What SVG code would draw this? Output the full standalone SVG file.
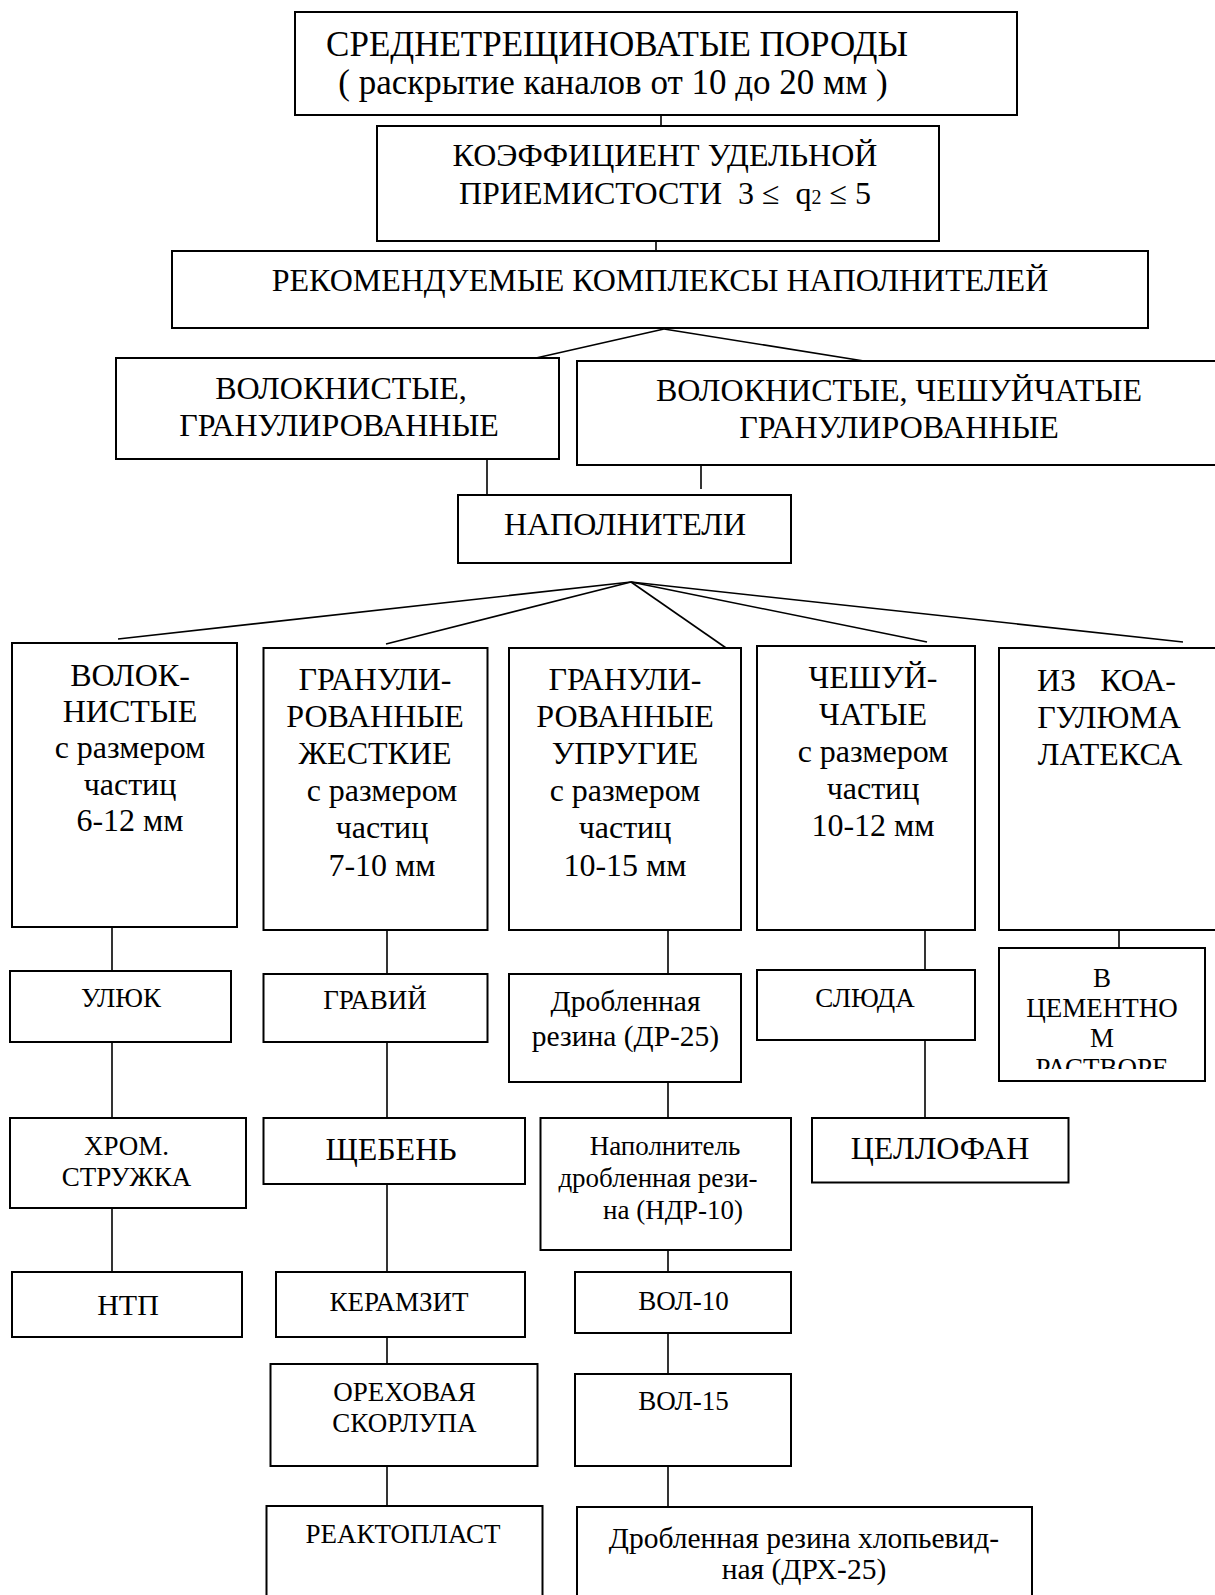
<svg xmlns="http://www.w3.org/2000/svg" width="1215" height="1595" viewBox="0 0 1215 1595">
  <style>
    .box { fill: #fff; stroke: #000; stroke-width: 2; }
    .ln { fill: none; stroke: #000; stroke-width: 1.6; }
    text { font-family: "Liberation Serif", "Times New Roman", serif; fill: #000; text-anchor: middle; }
    .f35 { font-size: 35px; }
    .f32 { font-size: 32px; }
    .f30 { font-size: 30px; }
    .f29 { font-size: 29.5px; }
    .f27 { font-size: 27px; }
    .st { text-anchor: start; }
  </style>
  <defs>
    <clipPath id="cementClip">
      <rect x="999" y="948" width="206" height="121"/>
    </clipPath>
  </defs>
  <rect width="1215" height="1595" fill="#fff"/>

  <!-- connectors -->
  <g id="connectors">
    <line class="ln" x1="661" y1="115" x2="661" y2="126"/>
    <line class="ln" x1="656" y1="241" x2="656" y2="251"/>
    <line class="ln" x1="664" y1="329" x2="536" y2="358"/>
    <line class="ln" x1="664" y1="329" x2="864" y2="361"/>
    <line class="ln" x1="487" y1="459" x2="487" y2="495"/>
    <line class="ln" x1="701" y1="465" x2="701" y2="489"/>
    <line class="ln" x1="631" y1="582" x2="118" y2="639"/>
    <line class="ln" x1="631" y1="582" x2="386" y2="644"/>
    <line class="ln" x1="631" y1="582" x2="729" y2="650"/>
    <line class="ln" x1="631" y1="582" x2="927" y2="642"/>
    <line class="ln" x1="631" y1="582" x2="1183" y2="642"/>
    <!-- fibrous column -->
    <line class="ln" x1="112" y1="927" x2="112" y2="971"/>
    <line class="ln" x1="112" y1="1042" x2="112" y2="1118"/>
    <line class="ln" x1="112" y1="1208" x2="112" y2="1272"/>
    <!-- rigid granular column -->
    <line class="ln" x1="387" y1="930" x2="387" y2="974"/>
    <line class="ln" x1="387" y1="1042" x2="387" y2="1118"/>
    <line class="ln" x1="387" y1="1184" x2="387" y2="1272"/>
    <line class="ln" x1="387" y1="1337" x2="387" y2="1364"/>
    <line class="ln" x1="387" y1="1466" x2="387" y2="1506"/>
    <!-- elastic granular column -->
    <line class="ln" x1="668" y1="930" x2="668" y2="974"/>
    <line class="ln" x1="668" y1="1082" x2="668" y2="1118"/>
    <line class="ln" x1="668" y1="1250" x2="668" y2="1272"/>
    <line class="ln" x1="668" y1="1333" x2="668" y2="1374"/>
    <line class="ln" x1="668" y1="1466" x2="668" y2="1507"/>
    <!-- flaky column -->
    <line class="ln" x1="925" y1="930" x2="925" y2="970"/>
    <line class="ln" x1="925" y1="1040" x2="925" y2="1118"/>
    <!-- latex column -->
    <line class="ln" x1="1119" y1="930" x2="1119" y2="948"/>
  </g>

  <g id="n-rocks">
    <rect class="box" x="295" y="12" width="722" height="103"/>
    <text class="f35" x="617" y="56">СРЕДНЕТРЕЩИНОВАТЫЕ  ПОРОДЫ</text>
    <text class="f35" x="613" y="94">( раскрытие каналов от 10 до 20 мм )</text>
  </g>

  <g id="n-coef">
    <rect class="box" x="377" y="126" width="562" height="115"/>
    <text class="f32" x="665" y="166">КОЭФФИЦИЕНТ УДЕЛЬНОЙ</text>
    <text class="f32" x="665" y="204" xml:space="preserve">ПРИЕМИСТОСТИ  3 ≤  q<tspan font-size="20">2</tspan> ≤ 5</text>
  </g>

  <g id="n-complexes">
    <rect class="box" x="172" y="251" width="976" height="77"/>
    <text class="f32" x="660" y="291">РЕКОМЕНДУЕМЫЕ КОМПЛЕКСЫ НАПОЛНИТЕЛЕЙ</text>
  </g>

  <g id="n-fib-gran">
    <rect class="box" x="116" y="358" width="443" height="101"/>
    <text class="f32" x="341" y="399">ВОЛОКНИСТЫЕ,</text>
    <text class="f32" x="339" y="436">ГРАНУЛИРОВАННЫЕ</text>
  </g>

  <g id="n-fib-flake-gran">
    <rect class="box" x="577" y="361" width="650" height="104"/>
    <text class="f32" x="899" y="401">ВОЛОКНИСТЫЕ, ЧЕШУЙЧАТЫЕ</text>
    <text class="f32" x="899" y="438">ГРАНУЛИРОВАННЫЕ</text>
  </g>

  <g id="n-fillers">
    <rect class="box" x="458" y="495" width="333" height="68"/>
    <text class="f32" x="625" y="535">НАПОЛНИТЕЛИ</text>
  </g>

  <g id="n-fibrous">
    <rect class="box" x="12" y="643" width="225" height="284"/>
    <text class="f32" x="130" y="686">ВОЛОК-</text>
    <text class="f32" x="130" y="722">НИСТЫЕ</text>
    <text class="f32" x="130" y="758">с размером</text>
    <text class="f32" x="130" y="794.5">частиц</text>
    <text class="f32" x="130" y="831">6-12 мм</text>
  </g>

  <g id="n-gran-rigid">
    <rect class="box" x="263.5" y="648" width="224" height="282"/>
    <text class="f32" x="375" y="690">ГРАНУЛИ-</text>
    <text class="f32" x="375" y="727">РОВАННЫЕ</text>
    <text class="f32" x="375" y="764">ЖЕСТКИЕ</text>
    <text class="f32" x="382" y="800.5">с размером</text>
    <text class="f32" x="382" y="837.5">частиц</text>
    <text class="f32" x="382" y="876">7-10 мм</text>
  </g>

  <g id="n-gran-elastic">
    <rect class="box" x="509" y="648" width="232" height="282"/>
    <text class="f32" x="625" y="690">ГРАНУЛИ-</text>
    <text class="f32" x="625" y="727">РОВАННЫЕ</text>
    <text class="f32" x="625" y="764">УПРУГИЕ</text>
    <text class="f32" x="625" y="800.5">с размером</text>
    <text class="f32" x="625" y="837.5">частиц</text>
    <text class="f32" x="625" y="876">10-15 мм</text>
  </g>

  <g id="n-flaky">
    <rect class="box" x="757" y="646" width="218" height="284"/>
    <text class="f32" x="873" y="688">ЧЕШУЙ-</text>
    <text class="f32" x="873" y="725">ЧАТЫЕ</text>
    <text class="f32" x="873" y="762">с размером</text>
    <text class="f32" x="873" y="799">частиц</text>
    <text class="f32" x="873" y="836">10-12 мм</text>
  </g>

  <g id="n-latex">
    <rect class="box" x="999" y="648" width="226" height="282"/>
    <text class="f32 st" x="1037" y="691" xml:space="preserve">ИЗ   КОА-</text>
    <text class="f32" x="1109" y="728">ГУЛЮМА</text>
    <text class="f32" x="1110" y="765">ЛАТЕКСА</text>
  </g>

  <!-- fibrous fillers -->
  <g id="n-ulyuk">
    <rect class="box" x="10" y="971" width="221" height="71"/>
    <text class="f27" x="121" y="1006.5">УЛЮК</text>
  </g>
  <g id="n-chrome">
    <rect class="box" x="10" y="1118" width="236" height="90"/>
    <text class="f27" x="126.5" y="1155">ХРОМ.</text>
    <text class="f27" x="126.5" y="1186">СТРУЖКА</text>
  </g>
  <g id="n-ntp">
    <rect class="box" x="12" y="1272" width="230" height="65"/>
    <text class="f30" x="128" y="1314.5">НТП</text>
  </g>

  <!-- rigid granular fillers -->
  <g id="n-gravel">
    <rect class="box" x="263.5" y="974" width="224" height="68"/>
    <text class="f27" x="375" y="1009">ГРАВИЙ</text>
  </g>
  <g id="n-crushed-stone">
    <rect class="box" x="263.5" y="1118" width="261.5" height="66"/>
    <text class="f32" x="391" y="1160">ЩЕБЕНЬ</text>
  </g>
  <g id="n-keramzit">
    <rect class="box" x="276" y="1272" width="249" height="65"/>
    <text class="f27" x="399" y="1310.5">КЕРАМЗИТ</text>
  </g>
  <g id="n-nutshell">
    <rect class="box" x="270.5" y="1364" width="267" height="102"/>
    <text class="f27" x="404.5" y="1401">ОРЕХОВАЯ</text>
    <text class="f27" x="404.5" y="1432">СКОРЛУПА</text>
  </g>
  <g id="n-reactoplast">
    <rect class="box" x="266.5" y="1506" width="276" height="100"/>
    <text class="f27" x="403" y="1542.5">РЕАКТОПЛАСТ</text>
  </g>

  <!-- elastic granular fillers -->
  <g id="n-dr25">
    <rect class="box" x="509" y="974" width="232" height="108"/>
    <text class="f29" x="625.5" y="1011">Дробленная</text>
    <text class="f29" x="625.5" y="1046">резина (ДР-25)</text>
  </g>
  <g id="n-ndr10">
    <rect class="box" x="540.5" y="1118" width="250.5" height="132"/>
    <text class="f27" x="665" y="1155">Наполнитель</text>
    <text class="f27" x="658" y="1187">дробленная рези-</text>
    <text class="f27" x="673" y="1219">на (НДР-10)</text>
  </g>
  <g id="n-vol10">
    <rect class="box" x="575" y="1272" width="216" height="61"/>
    <text class="f27" x="683.5" y="1309.5">ВОЛ-10</text>
  </g>
  <g id="n-vol15">
    <rect class="box" x="575" y="1374" width="216" height="92"/>
    <text class="f27" x="683.5" y="1409.5">ВОЛ-15</text>
  </g>
  <g id="n-drx25">
    <rect class="box" x="577" y="1507" width="455" height="100"/>
    <text class="f29" x="804" y="1547.5">Дробленная резина хлопьевид-</text>
    <text class="f29" x="804" y="1579">ная (ДРХ-25)</text>
  </g>

  <!-- flaky fillers -->
  <g id="n-mica">
    <rect class="box" x="757" y="970" width="218" height="70"/>
    <text class="f27" x="865" y="1006.5">СЛЮДА</text>
  </g>
  <g id="n-cellophane">
    <rect class="box" x="812" y="1118" width="256.5" height="64.5"/>
    <text class="f32" x="940" y="1159">ЦЕЛЛОФАН</text>
  </g>

  <!-- latex filler -->
  <g id="n-cement">
    <rect class="box" x="999" y="948" width="206" height="133"/>
    <g clip-path="url(#cementClip)">
      <text class="f27" x="1102" y="987">В</text>
      <text class="f27" x="1102" y="1017">ЦЕМЕНТНО</text>
      <text class="f27" x="1102" y="1047">М</text>
      <text class="f27" x="1102" y="1077">РАСТВОРЕ</text>
    </g>
  </g>
</svg>
